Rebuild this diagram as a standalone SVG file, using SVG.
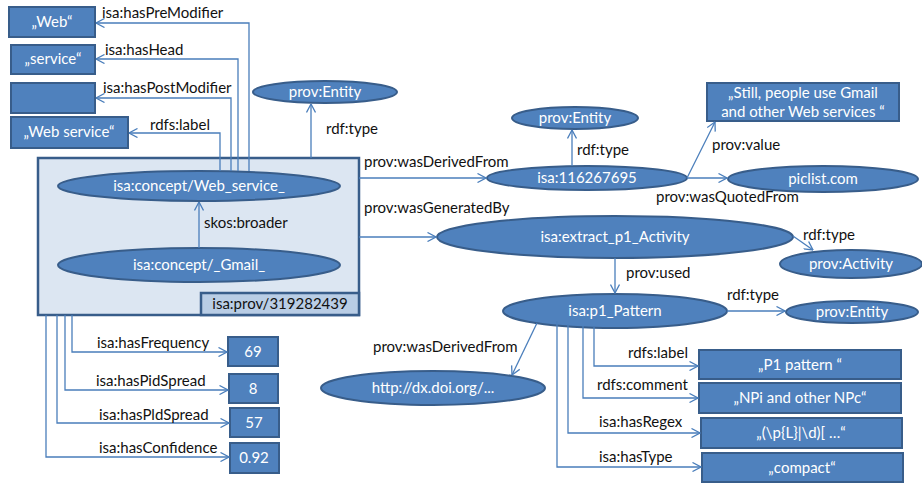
<svg xmlns="http://www.w3.org/2000/svg" width="922" height="483" viewBox="0 0 922 483">
  <style>
    .node { fill: #4f81bd; stroke: #385d8a; stroke-width: 2; }
    .ntext { fill: #ffffff; font-family: Lato, "Liberation Sans", sans-serif; font-size: 15px; text-anchor: middle; }
    .lbl { fill: #111111; font-family: Lato, "Liberation Sans", sans-serif; font-size: 15px; }
    .edge { fill: none; stroke: #4a7ebb; stroke-width: 1.3; }
    .container { fill: #dce6f2; stroke: #385d8a; stroke-width: 2.5; }
    .prov { fill: #b9cde5; stroke: #385d8a; stroke-width: 2.5; }
    .ptext { fill: #111111; font-family: Lato, "Liberation Sans", sans-serif; font-size: 15px; text-anchor: middle; }
  </style>
  <defs>
    <marker id="open" viewBox="0 0 10 10" refX="9.5" refY="5" markerWidth="10" markerHeight="10" markerUnits="userSpaceOnUse" orient="auto">
      <path d="M1,0.5 L9.5,5 L1,9.5" fill="none" stroke="#4a7ebb" stroke-width="1.3"/>
    </marker>
  </defs>

  <!-- container holding the two concepts -->
  <g id="provenance-box">
    <rect class="container" x="38" y="158" width="321" height="157"/>
    <rect class="prov" x="201" y="293" width="158" height="22"/>
    <text class="ptext" x="280" y="309">isa:prov/319282439</text>
  </g>

  <g id="web-service">
    <ellipse class="node" cx="199" cy="186" rx="141" ry="15"/>
    <text class="ntext" x="199" y="191">isa:concept/Web_service_</text>
  </g>
  <g id="gmail">
    <ellipse class="node" cx="199" cy="265" rx="141" ry="17"/>
    <text class="ntext" x="199" y="270">isa:concept/_Gmail_</text>
  </g>

  <!-- literal boxes, top left -->
  <g id="lit-web">
    <rect class="node" x="9" y="7" width="86" height="30"/>
    <text class="ntext" x="52" y="27">„Web“</text>
  </g>
  <g id="lit-service">
    <rect class="node" x="11" y="45" width="84" height="29"/>
    <text class="ntext" x="53" y="64">„service“</text>
  </g>
  <g id="lit-empty">
    <rect class="node" x="11" y="83" width="84" height="30"/>
  </g>
  <g id="lit-web-service">
    <rect class="node" x="11" y="117" width="117" height="31"/>
    <text class="ntext" x="69" y="137">„Web service“</text>
  </g>

  <g id="entity-1">
    <ellipse class="node" cx="325" cy="92" rx="72" ry="11"/>
    <text class="ntext" x="325" y="97">prov:Entity</text>
  </g>

  <!-- values, bottom left -->
  <g id="val-69">
    <rect class="node" x="228" y="337" width="50" height="29"/>
    <text class="ntext" x="253" y="357">69</text>
  </g>
  <g id="val-8">
    <rect class="node" x="229" y="374" width="49" height="29"/>
    <text class="ntext" x="253" y="394">8</text>
  </g>
  <g id="val-57">
    <rect class="node" x="230" y="408" width="49" height="29"/>
    <text class="ntext" x="254" y="428">57</text>
  </g>
  <g id="val-092">
    <rect class="node" x="230" y="443" width="49" height="30"/>
    <text class="ntext" x="254" y="463">0.92</text>
  </g>

  <!-- source entity -->
  <g id="entity-2">
    <ellipse class="node" cx="575" cy="118" rx="63" ry="11"/>
    <text class="ntext" x="575" y="123">prov:Entity</text>
  </g>
  <g id="source">
    <ellipse class="node" cx="587" cy="178" rx="100" ry="12"/>
    <text class="ntext" x="587" y="183">isa:116267695</text>
  </g>
  <g id="quote">
    <rect class="node" x="707" y="83" width="192" height="38"/>
    <text class="ntext" x="803" y="98">„Still, people use Gmail</text>
    <text class="ntext" x="803" y="117">and other Web services “</text>
  </g>
  <g id="piclist">
    <ellipse class="node" cx="823" cy="179" rx="95" ry="13"/>
    <text class="ntext" x="823" y="184">piclist.com</text>
  </g>

  <!-- activity and pattern -->
  <g id="activity">
    <ellipse class="node" cx="615" cy="237" rx="178" ry="21"/>
    <text class="ntext" x="615" y="242">isa:extract_p1_Activity</text>
  </g>
  <g id="activity-type">
    <ellipse class="node" cx="851" cy="264" rx="71" ry="14"/>
    <text class="ntext" x="851" y="269">prov:Activity</text>
  </g>
  <g id="pattern">
    <ellipse class="node" cx="615" cy="311" rx="112" ry="17"/>
    <text class="ntext" x="615" y="316">isa:p1_Pattern</text>
  </g>
  <g id="entity-3">
    <ellipse class="node" cx="852" cy="312" rx="66" ry="11"/>
    <text class="ntext" x="852" y="317">prov:Entity</text>
  </g>
  <g id="doi">
    <ellipse class="node" cx="433" cy="388" rx="112" ry="17"/>
    <text class="ntext" x="433" y="393">http://dx.doi.org/...</text>
  </g>
  <g id="p-label">
    <rect class="node" x="699" y="350" width="202" height="29"/>
    <text class="ntext" x="800" y="370">„P1 pattern “</text>
  </g>
  <g id="p-comment">
    <rect class="node" x="699" y="383" width="202" height="30"/>
    <text class="ntext" x="800" y="403">„NPi and other NPc“</text>
  </g>
  <g id="p-regex">
    <rect class="node" x="701" y="418" width="201" height="30"/>
    <text class="ntext" x="801" y="438">„(\p{L}|\d)[ …“</text>
  </g>
  <g id="p-type">
    <rect class="node" x="702" y="453" width="201" height="29"/>
    <text class="ntext" x="802" y="473">„compact“</text>
  </g>

  <!-- connectors -->
  <g id="connectors">
    <path class="edge" marker-end="url(#open)" d="M249,171 V23 H96"/>
    <path class="edge" marker-end="url(#open)" d="M238,171 V59 H96"/>
    <path class="edge" marker-end="url(#open)" d="M231,171 V98 H96"/>
    <path class="edge" marker-end="url(#open)" d="M220,171 V133 H129"/>
    <path class="edge" marker-end="url(#open)" d="M311,158 V104"/>
    <path class="edge" marker-end="url(#open)" d="M199,248 V202"/>

    <path class="edge" marker-end="url(#open)" d="M72,315 V352 H227"/>
    <path class="edge" marker-end="url(#open)" d="M65,315 V390 H228"/>
    <path class="edge" marker-end="url(#open)" d="M57,315 V423 H229"/>
    <path class="edge" marker-end="url(#open)" d="M46,315 V457 H229"/>

    <path class="edge" marker-end="url(#open)" d="M359,178 H486"/>
    <path class="edge" marker-end="url(#open)" d="M572,166 V130"/>
    <path class="edge" marker-end="url(#open)" d="M687,178 L715,122"/>
    <path class="edge" marker-end="url(#open)" d="M687,178 H727"/>
    <path class="edge" marker-end="url(#open)" d="M359,237 H436"/>
    <path class="edge" marker-end="url(#open)" d="M793,236 L813,250"/>
    <path class="edge" marker-end="url(#open)" d="M615,258 V293"/>
    <path class="edge" marker-end="url(#open)" d="M727,311 H785"/>
    <path class="edge" marker-end="url(#open)" d="M537,323 L512,375"/>

    <path class="edge" marker-end="url(#open)" d="M594,327 V366 H698"/>
    <path class="edge" marker-end="url(#open)" d="M583,326 V398 H698"/>
    <path class="edge" marker-end="url(#open)" d="M568,324 V433 H700"/>
    <path class="edge" marker-end="url(#open)" d="M557,321 V467 H701"/>
  </g>

  <!-- connector labels -->
  <g id="labels">
    <text class="lbl" x="102" y="18">isa:hasPreModifier</text>
    <text class="lbl" x="105" y="55">isa:hasHead</text>
    <text class="lbl" x="103" y="93">isa:hasPostModifier</text>
    <text class="lbl" x="150" y="130">rdfs:label</text>
    <text class="lbl" x="326" y="134">rdf:type</text>
    <text class="lbl" x="204" y="228">skos:broader</text>
    <text class="lbl" x="97" y="348">isa:hasFrequency</text>
    <text class="lbl" x="96" y="386">isa:hasPidSpread</text>
    <text class="lbl" x="99" y="420">isa:hasPldSpread</text>
    <text class="lbl" x="99" y="453">isa:hasConfidence</text>
    <text class="lbl" x="364" y="167">prov:wasDerivedFrom</text>
    <text class="lbl" x="577" y="155">rdf:type</text>
    <text class="lbl" x="712" y="150">prov:value</text>
    <text class="lbl" x="656" y="202">prov:wasQuotedFrom</text>
    <text class="lbl" x="364" y="213">prov:wasGeneratedBy</text>
    <text class="lbl" x="803" y="240">rdf:type</text>
    <text class="lbl" x="626" y="278">prov:used</text>
    <text class="lbl" x="727" y="300">rdf:type</text>
    <text class="lbl" x="373" y="352">prov:wasDerivedFrom</text>
    <text class="lbl" x="628" y="358">rdfs:label</text>
    <text class="lbl" x="597" y="390">rdfs:comment</text>
    <text class="lbl" x="599" y="427">isa:hasRegex</text>
    <text class="lbl" x="599" y="462">isa:hasType</text>
  </g>
</svg>
